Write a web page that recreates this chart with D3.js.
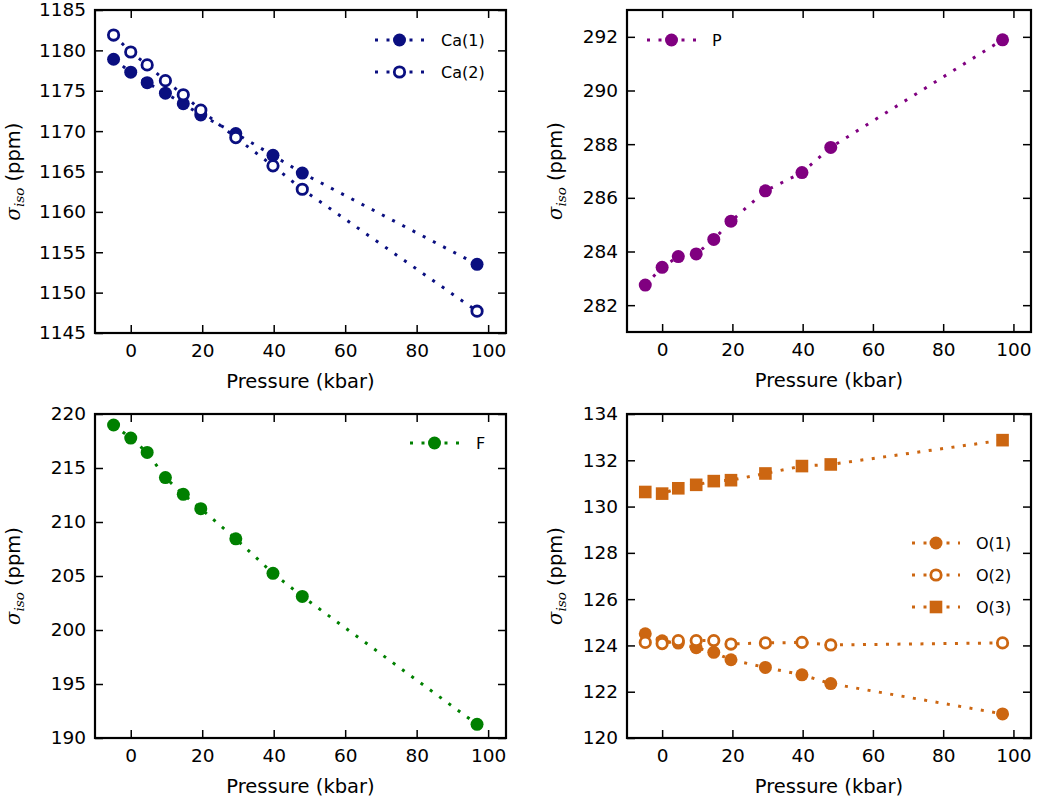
<!DOCTYPE html>
<html>
<head>
<meta charset="utf-8">
<script src="https://cdn.jsdelivr.net/npm/d3@7/dist/d3.min.js"></script>
<style>
  body { margin: 0; background: #fff; }
  svg { display: block; }
  text { font-family: "DejaVu Sans", sans-serif; fill: #000; }
</style>
</head>
<body>
<svg id="chart" width="1050" height="800"></svg>
<script>
// ---------------- data ----------------
const pressure = [-4.8, 0, 4.6, 9.7, 14.7, 19.6, 29.4, 39.8, 48.0, 96.9];
const ca1 = [1178.9, 1177.3, 1176.0, 1174.7, 1173.4, 1172.0, 1169.7, 1167.0, 1164.8, 1153.5];
const ca2 = [1181.9, 1179.8, 1178.2, 1176.25, 1174.5, 1172.6, 1169.2, 1165.7, 1162.8, 1147.7];
const pShift = [282.75, 283.41, 283.81, 283.91, 284.45, 285.13, 286.26, 286.94, 287.88, 291.89];
const fShift = [218.98, 217.77, 216.44, 214.11, 212.56, 211.23, 208.44, 205.25, 203.11, 191.27];
const o1 = [124.5, 124.2, 124.1, 123.9, 123.70, 123.38, 123.05, 122.73, 122.35, 121.04];
const o2 = [124.13, 124.08, 124.21, 124.21, 124.21, 124.06, 124.11, 124.13, 124.02, 124.11];
const o3 = [130.63, 130.56, 130.79, 130.94, 131.10, 131.14, 131.43, 131.75, 131.82, 132.87];

const xTicks = [0, 20, 40, 60, 80, 100];
const xDomain = [-10, 105];
const yTicksCa = [1145, 1150, 1155, 1160, 1165, 1170, 1175, 1180, 1185];
const yTicksP = [282, 284, 286, 288, 290, 292];
const yTicksF = [190, 195, 200, 205, 210, 215, 220];
const yTicksO = [120, 122, 124, 126, 128, 130, 132, 134];

const navy = "#0a0f80", purple = "#800080", green = "#008000", orange = "#cc6611";

const svg = d3.select("#chart");

function drawPanel(cfg) {
  const { left, right, top, bottom, yDomain, yTicks, series, legend, ylabelX } = cfg;
  const x = d3.scaleLinear().domain(xDomain).range([left, right]);
  const y = d3.scaleLinear().domain(yDomain).range([bottom, top]);
  const g = svg.append("g");
  const tickLen = 8;

  // axes (inward ticks on all sides)
  const axB = d3.axisBottom(x).tickValues(xTicks).tickSize(tickLen).tickFormat(d3.format("d"));
  const axL = d3.axisLeft(y).tickValues(yTicks).tickSize(tickLen).tickFormat(d3.format("d"));
  const gB = g.append("g").attr("transform", `translate(0,${bottom})`).call(axB);
  gB.selectAll(".tick line").attr("y2", -tickLen);
  gB.selectAll(".tick text").attr("y", 11);
  const gL = g.append("g").attr("transform", `translate(${left},0)`).call(axL);
  gL.selectAll(".tick line").attr("x2", tickLen);
  gL.selectAll(".tick text").attr("x", -9);
  const gT = g.append("g").attr("transform", `translate(0,${top})`).call(d3.axisTop(x).tickValues(xTicks).tickSize(tickLen).tickFormat(""));
  gT.selectAll(".tick line").attr("y2", tickLen);
  const gR = g.append("g").attr("transform", `translate(${right},0)`).call(d3.axisRight(y).tickValues(yTicks).tickSize(tickLen).tickFormat(""));
  gR.selectAll(".tick line").attr("x2", -tickLen);
  [gB, gL, gT, gR].forEach(a => {
    a.select(".domain").remove();
    a.selectAll(".tick line").attr("stroke", "#000").attr("stroke-width", 1.5);
    a.selectAll(".tick text").attr("font-size", 18.5).attr("font-family", "DejaVu Sans").attr("fill", "#000");
  });

  // frame
  g.append("rect").attr("x", left).attr("y", top).attr("width", right - left).attr("height", bottom - top)
    .attr("fill", "none").attr("stroke", "#000").attr("stroke-width", 2.2);

  // axis labels
  g.append("text").attr("x", (left + right) / 2).attr("y", bottom + 55).attr("text-anchor", "middle")
    .attr("font-size", 19.5).text("Pressure (kbar)");
  const yl = g.append("text").attr("transform", `translate(${ylabelX},${(top + bottom) / 2}) rotate(-90)`)
    .attr("text-anchor", "middle").attr("font-size", 19.5);
  yl.append("tspan").attr("font-style", "italic").attr("font-family", "DejaVu Serif").text("σ");
  yl.append("tspan").attr("font-style", "italic").attr("font-family", "DejaVu Serif").attr("font-size", 13.5).attr("dy", 4).text("iso");
  yl.append("tspan").attr("dy", -4).text(" (ppm)");

  const clipId = "clip" + Math.round(left) + "_" + Math.round(top);
  svg.append("clipPath").attr("id", clipId).append("rect")
    .attr("x", left).attr("y", top).attr("width", right - left).attr("height", bottom - top);
  const plot = g.append("g").attr("clip-path", `url(#${clipId})`);

  const line = d3.line().x((d, i) => x(pressure[i])).y(d => y(d));

  function marker(sel, type, color, cx, cy) {
    if (type === "square") {
      sel.append("rect").attr("x", cx - 6.3).attr("y", cy - 6.3).attr("width", 12.6).attr("height", 12.6).attr("fill", color);
    } else if (type === "open") {
      sel.append("circle").attr("cx", cx).attr("cy", cy).attr("r", 5.2).attr("fill", "#fff")
        .attr("stroke", color).attr("stroke-width", 2.8);
    } else {
      sel.append("circle").attr("cx", cx).attr("cy", cy).attr("r", 6.5).attr("fill", color);
    }
  }

  series.forEach(s => {
    plot.append("path").datum(s.values).attr("d", line).attr("fill", "none")
      .attr("stroke", s.color).attr("stroke-width", 3).attr("stroke-dasharray", "3,8.5");
  });
  series.forEach(s => {
    const mg = plot.append("g");
    s.values.forEach((v, i) => marker(mg, s.type, s.color, x(pressure[i]), y(v)));
  });

  // legend
  series.forEach((s, k) => {
    const ly = legend.y[k];
    const lg = g.append("g");
    lg.append("line").attr("x1", legend.x1).attr("x2", legend.x2).attr("y1", ly).attr("y2", ly)
      .attr("stroke", s.color).attr("stroke-width", 3).attr("stroke-dasharray", "3,8.5");
    marker(lg, s.type, s.color, (legend.x1 + legend.x2) / 2, ly);
    lg.append("text").attr("x", legend.tx).attr("y", ly).attr("dy", "0.36em").attr("font-size", 16).text(s.name);
  });
}

drawPanel({
  left: 95, right: 506, top: 10, bottom: 333, ylabelX: 20,
  yDomain: [1145, 1185], yTicks: yTicksCa,
  series: [
    { name: "Ca(1)", values: ca1, color: navy, type: "filled" },
    { name: "Ca(2)", values: ca2, color: navy, type: "open" }
  ],
  legend: { x1: 375, x2: 424, tx: 441, y: [40, 72] }
});
drawPanel({
  left: 627, right: 1031, top: 10, bottom: 332, ylabelX: 562,
  yDomain: [281, 293], yTicks: yTicksP,
  series: [ { name: "P", values: pShift, color: purple, type: "filled" } ],
  legend: { x1: 647, x2: 696, tx: 712, y: [40] }
});
drawPanel({
  left: 95, right: 506, top: 414, bottom: 738, ylabelX: 20,
  yDomain: [190, 220], yTicks: yTicksF,
  series: [ { name: "F", values: fShift, color: green, type: "filled" } ],
  legend: { x1: 410, x2: 459, tx: 476, y: [443] }
});
drawPanel({
  left: 627, right: 1031, top: 414, bottom: 738, ylabelX: 562,
  yDomain: [120, 134], yTicks: yTicksO,
  series: [
    { name: "O(1)", values: o1, color: orange, type: "filled" },
    { name: "O(2)", values: o2, color: orange, type: "open" },
    { name: "O(3)", values: o3, color: orange, type: "square" }
  ],
  legend: { x1: 912, x2: 960, tx: 976, y: [543, 575, 607] }
});
</script>
</body>
</html>
